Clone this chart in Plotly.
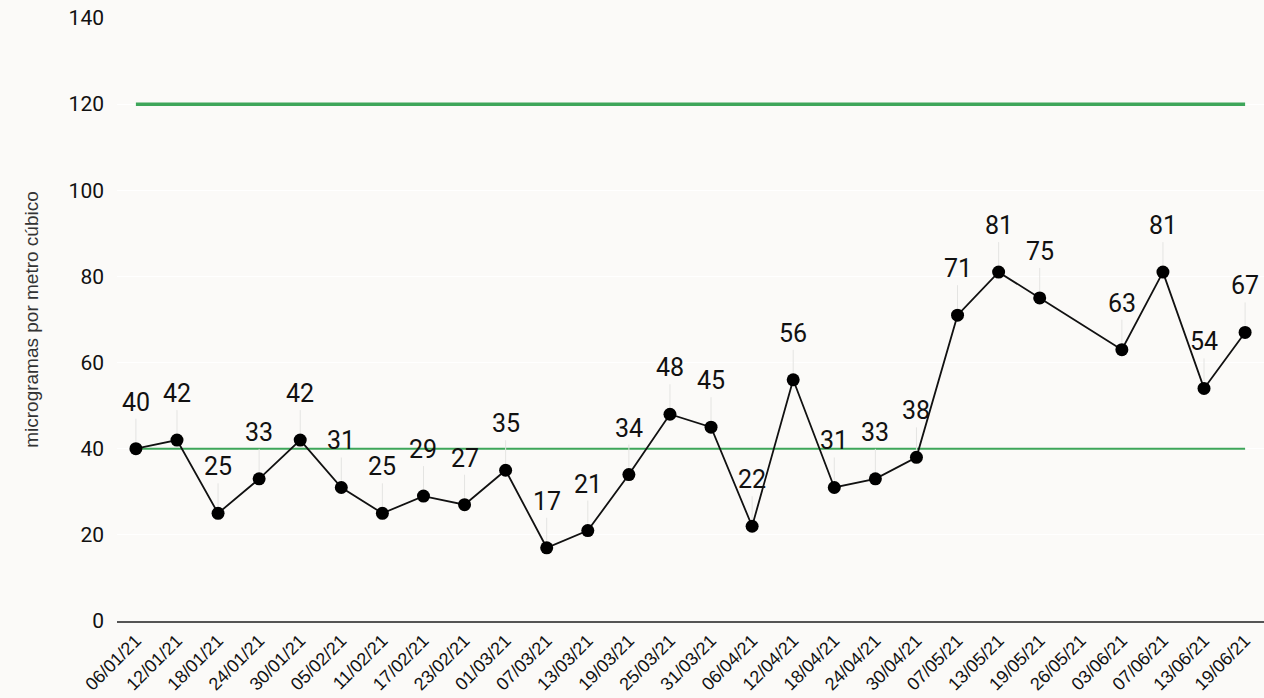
import plotly.graph_objects as go

dates = ["06/01/21", "12/01/21", "18/01/21", "24/01/21", "30/01/21", "05/02/21", "11/02/21",
         "17/02/21", "23/02/21", "01/03/21", "07/03/21", "13/03/21", "19/03/21", "25/03/21",
         "31/03/21", "06/04/21", "12/04/21", "18/04/21", "24/04/21", "30/04/21", "07/05/21",
         "13/05/21", "19/05/21", "26/05/21", "03/06/21", "07/06/21", "13/06/21", "19/06/21"]
values = [40, 42, 25, 33, 42, 31, 25, 29, 27, 35, 17, 21, 34, 48, 45, 22, 56, 31, 33, 38,
          71, 81, 75, None, 63, 81, 54, 67]
limit_high = 120
limit_low = 40
y_ticks = [0, 20, 40, 60, 80, 100, 120, 140]

idx = list(range(len(dates)))
green = "#3ea65a"
bg = "#fbfaf8"

fig = go.Figure()
fig.add_trace(go.Scatter(x=[idx[0], idx[-1]], y=[limit_high, limit_high], mode="lines",
                         line=dict(color=green, width=3.5), hoverinfo="skip", showlegend=False))
fig.add_trace(go.Scatter(x=[idx[0], idx[-1]], y=[limit_low, limit_low], mode="lines",
                         line=dict(color=green, width=2), hoverinfo="skip", showlegend=False))
fig.add_trace(go.Scatter(x=idx, y=values, mode="lines+markers", connectgaps=True,
                         line=dict(color="#111", width=1.8),
                         marker=dict(color="#000", size=13), showlegend=False))

for i, v in zip(idx, values):
    if v is None:
        continue
    fig.add_annotation(x=i, y=v, text=str(v), showarrow=True, arrowhead=0, arrowwidth=1,
                       arrowcolor="#e4e4e2", ax=0, ay=-30, standoff=7, yanchor="bottom",
                       font=dict(family="Roboto", size=25, color="#111"))

fig.update_layout(
    width=1264, height=698,
    margin=dict(l=117, r=0, t=18, b=77),
    paper_bgcolor=bg, plot_bgcolor=bg,
    xaxis=dict(range=[-0.46, 27.46], tickmode="array", tickvals=idx, ticktext=dates,
               tickangle=-45, showgrid=False, zeroline=False, showline=True,
               linecolor="#555", linewidth=2,
               tickfont=dict(family="Liberation Sans", size=18, color="#111")),
    yaxis=dict(range=[0, 140], tickvals=y_ticks, showgrid=True, gridcolor="#ffffff",
               gridwidth=1, zeroline=False, ticklabelstandoff=12,
               tickfont=dict(family="Roboto", size=21, color="#111"),
               title=dict(text="microgramas por metro cúbico", standoff=24,
                          font=dict(family="Liberation Sans", size=19, color="#333"))),
)

fig.write_html("out.html", config={"displayModeBar": False},
               post_script="document.body.style.margin='0';")
